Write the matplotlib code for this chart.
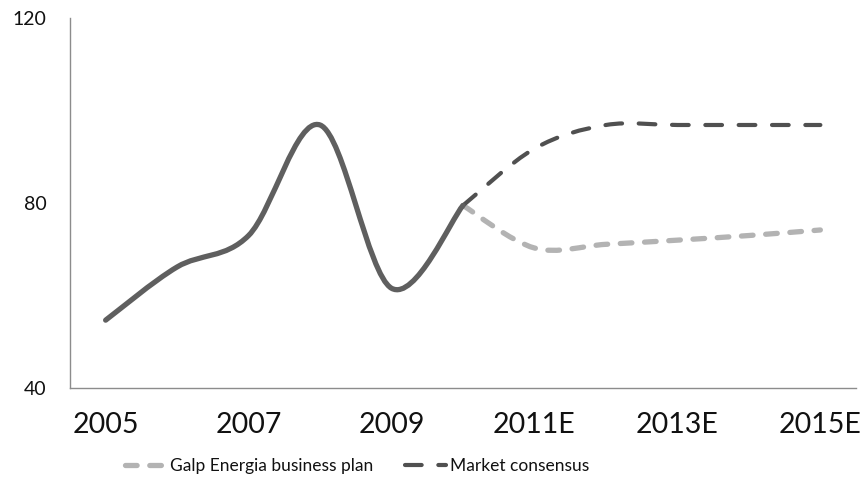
import matplotlib.pyplot as plt
from matplotlib.path import Path
from matplotlib.patches import PathPatch
from matplotlib.lines import Line2D

years = ["2005", "2006", "2007", "2008", "2009", "2010",
         "2011E", "2012E", "2013E", "2014E", "2015E"]
history = [54.7, 66.2, 73.0, 96.9, 61.6, 79.5]
business_plan = [79.5, 70.3, 71.1, 72.0, 73.0, 74.2]
consensus = [79.5, 91.8, 96.9, 96.9, 96.9, 96.9]

HIST_COLOR = "#5f5f5f"
PLAN_COLOR = "#b3b3b3"
CONS_COLOR = "#505050"

plt.rcParams["font.family"] = ["Lato", "DejaVu Sans"]


def smooth_path(xs, ys):
    # Excel-style smoothed line: cubic Bezier through each point
    pts = list(zip(xs, ys))
    n = len(pts)
    verts = [pts[0]]
    codes = [Path.MOVETO]
    for i in range(n - 1):
        p0 = pts[i - 1] if i > 0 else pts[i]
        p1 = pts[i]
        p2 = pts[i + 1]
        p3 = pts[i + 2] if i + 2 < n else pts[i + 1]
        c1 = (p1[0] + (p2[0] - p0[0]) / 6, p1[1] + (p2[1] - p0[1]) / 6)
        c2 = (p2[0] - (p3[0] - p1[0]) / 6, p2[1] - (p3[1] - p1[1]) / 6)
        verts += [c1, c2, p2]
        codes += [Path.CURVE4] * 3
    return Path(verts, codes)


fig = plt.figure(figsize=(8.63, 4.78), dpi=100)
ax = fig.add_axes([0.081, 0.188, 0.911, 0.774])

x_hist = list(range(len(history)))
x_fut = list(range(len(history) - 1, len(years)))

ax.add_patch(PathPatch(smooth_path(x_fut, business_plan), fill=False,
                       edgecolor=PLAN_COLOR, lw=3.8, linestyle=(0, (2.2, 2.4)),
                       capstyle="round", joinstyle="round", zorder=2))
ax.add_patch(PathPatch(smooth_path(x_fut, consensus), fill=False,
                       edgecolor=CONS_COLOR, lw=3.0, linestyle=(0, (4.0, 4.0)),
                       capstyle="round", joinstyle="round", zorder=2))
ax.add_patch(PathPatch(smooth_path(x_hist, history), fill=False,
                       edgecolor=HIST_COLOR, lw=3.8, capstyle="round",
                       joinstyle="round", zorder=3))

ax.set_xlim(-0.5, len(years) - 0.5)
ax.set_ylim(40, 120)
ax.set_yticks([40, 80, 120])
ax.set_xticks(range(0, len(years), 2))
ax.set_xticklabels(years[::2])
ax.tick_params(axis="x", length=0, labelsize=20.5, pad=17, labelcolor="#111111")
ax.tick_params(axis="y", length=0, labelsize=14, pad=17, labelcolor="#111111")

for side in ("top", "right"):
    ax.spines[side].set_visible(False)
for side in ("left", "bottom"):
    ax.spines[side].set_color("#8c8c8c")
    ax.spines[side].set_linewidth(1.0)

handles = [
    Line2D([], [], color=PLAN_COLOR, lw=3.8, linestyle=(0, (2.2, 2.4)),
           dash_capstyle="round"),
    Line2D([], [], color=CONS_COLOR, lw=3.0, linestyle=(0, (4.0, 4.0)),
           dash_capstyle="round"),
]
fig.legend(handles, ["Galp Energia business plan", "Market consensus"],
           loc="center left", bbox_to_anchor=(0.145, 0.025), ncol=2,
           frameon=False, fontsize=12.5, handlelength=2.4, handletextpad=0.2,
           columnspacing=1.8, borderpad=0, borderaxespad=0,
           labelcolor="#111111")

fig.savefig("out.png", dpi=100)
